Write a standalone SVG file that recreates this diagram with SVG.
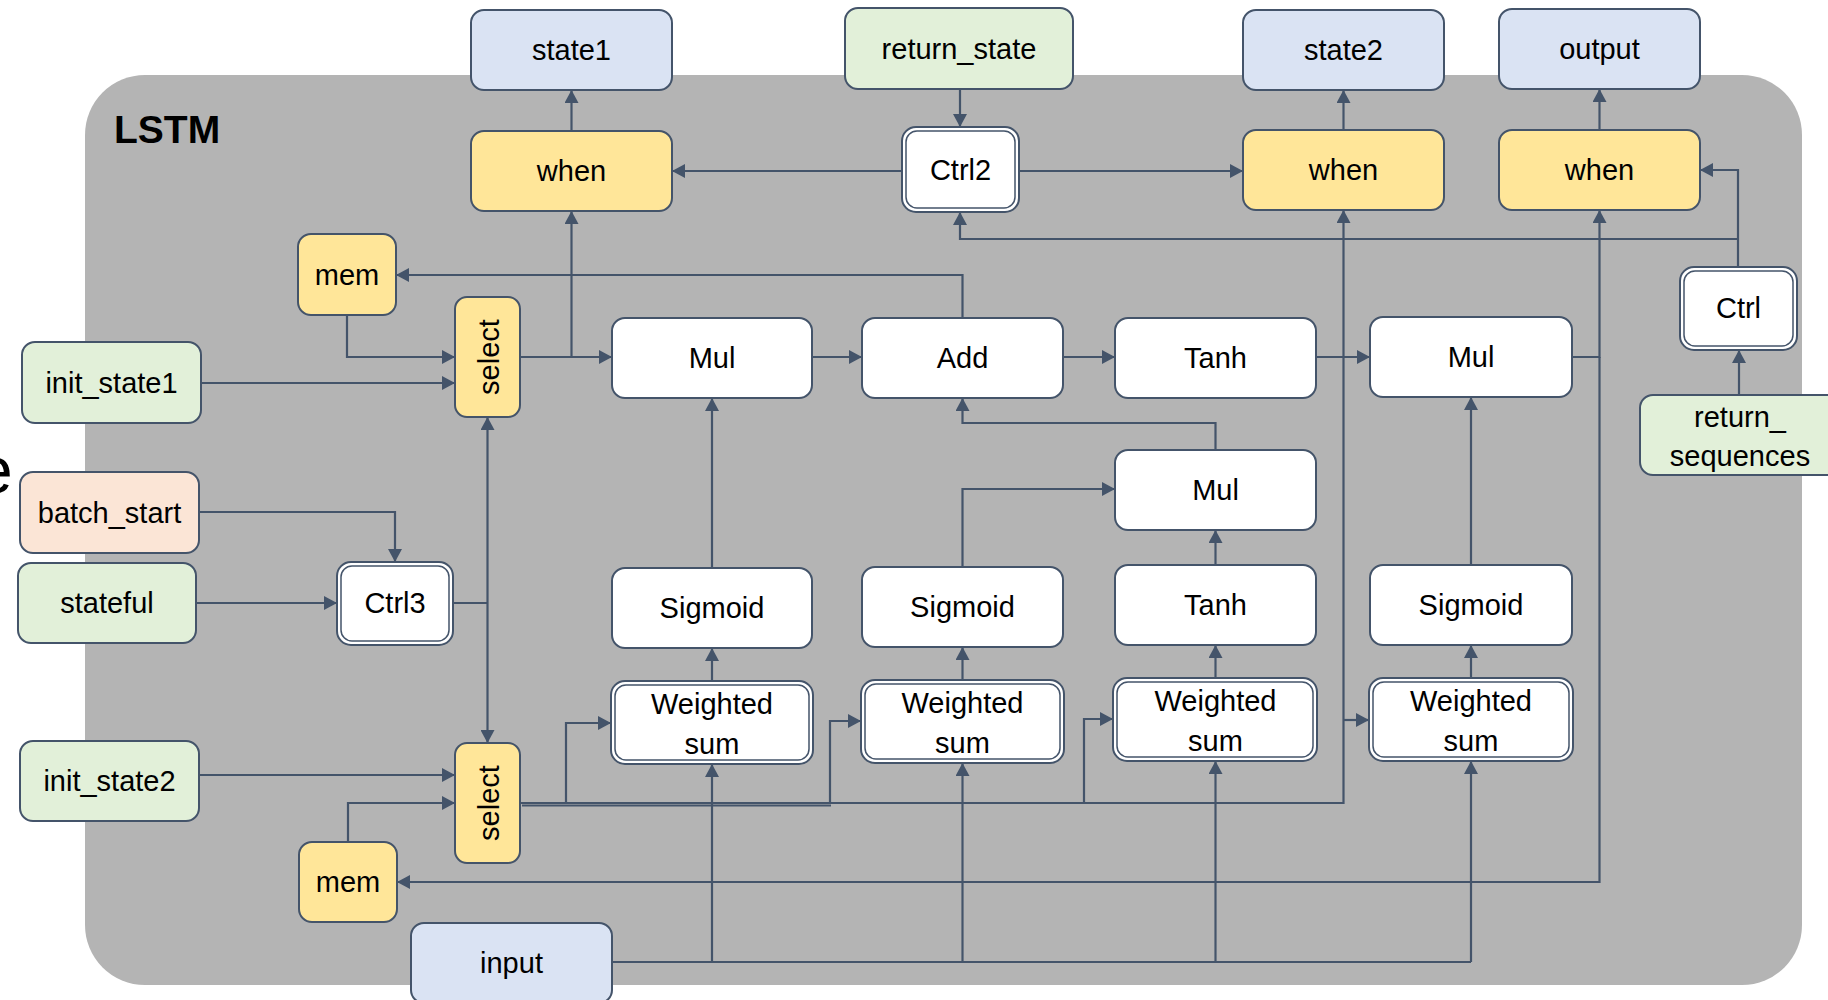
<svg xmlns="http://www.w3.org/2000/svg" width="1828" height="1000" viewBox="0 0 1828 1000">
  <defs>
    <marker id="arr" viewBox="0 0 10 10" refX="10" refY="5" markerWidth="13" markerHeight="14" markerUnits="userSpaceOnUse" orient="auto" preserveAspectRatio="none">
      <path d="M0,0 L10,5 L0,10 z" fill="#44546A"/>
    </marker>
    <style>
      .bg { fill: #B4B4B4; }
      .box { stroke: #44546A; stroke-width: 2; }
      .blue { fill: #DAE3F3; }
      .green { fill: #E2F0D9; }
      .yellow { fill: #FFE699; }
      .peach { fill: #FBE5D6; }
      .white { fill: #FFFFFF; }
      .inner { fill: none; stroke: #44546A; stroke-width: 1.5; }
      .lbl { font-family: "Liberation Sans", Arial, sans-serif; font-size: 29px; fill: #000; text-anchor: middle; }
      .title { font-family: "Liberation Sans", Arial, sans-serif; font-size: 39px; font-weight: bold; fill: #000; }
      .edge { fill: none; stroke: #44546A; stroke-width: 2.2; }
      .arrow { marker-end: url(#arr); }
    </style>
  </defs>

  <!-- stray glyph at the left border -->
  <text x="-24" y="493" font-family="Liberation Sans, Arial, sans-serif" font-size="66" fill="#000">e</text>

  <!-- LSTM container -->
  <g id="lstm">
    <rect class="bg" x="85" y="75" width="1717" height="910" rx="60"/>
    <text class="title" x="114" y="143">LSTM</text>
  </g>

  <!-- connectors -->
  <g id="connectors">
    <path class="edge arrow" d="M571.5,131 V90"/>
    <path class="edge arrow" d="M960,89 V127"/>
    <path class="edge arrow" d="M902,171 H672"/>
    <path class="edge arrow" d="M1019,171 H1243"/>
    <path class="edge arrow" d="M1343.5,130 V90"/>
    <path class="edge arrow" d="M1599.5,130 V89"/>
    <path class="edge arrow" d="M1738,267 V170 H1700"/>
    <path class="edge arrow" d="M1738,239 H960 V212"/>
    <path class="edge arrow" d="M1739,395 V350"/>

    <path class="edge arrow" d="M520,357 H612"/>
    <path class="edge arrow" d="M571.5,357 V211"/>
    <path class="edge arrow" d="M962.5,318 V275 H396"/>
    <path class="edge arrow" d="M347,315 V357 H455"/>
    <path class="edge arrow" d="M201,383 H455"/>
    <path class="edge arrow" d="M812,357 H862"/>
    <path class="edge arrow" d="M1063,357 H1115"/>
    <path class="edge arrow" d="M1316,357 H1370"/>
    <path class="edge arrow" d="M1572,357 H1599.5 V210"/>
    <path class="edge arrow" d="M1599.5,357 V882 H397"/>

    <path class="edge arrow" d="M1215.5,450 V423 H962.5 V398"/>
    <path class="edge arrow" d="M712,568 V398"/>
    <path class="edge arrow" d="M962.5,567 V489 H1115"/>
    <path class="edge arrow" d="M1215.5,565 V530"/>
    <path class="edge arrow" d="M1471,565 V397"/>

    <path class="edge arrow" d="M712,681 V648"/>
    <path class="edge arrow" d="M962.5,680 V647"/>
    <path class="edge arrow" d="M1215.5,678 V645"/>
    <path class="edge arrow" d="M1471,678 V645"/>

    <path class="edge" d="M612,962 H1471"/>
    <path class="edge arrow" d="M712,962 V764"/>
    <path class="edge arrow" d="M962.5,962 V763"/>
    <path class="edge arrow" d="M1215.5,962 V761"/>
    <path class="edge arrow" d="M1471,962 V761"/>

    <path class="edge arrow" d="M199,512 H395 V562"/>
    <path class="edge arrow" d="M196,603 H337"/>
    <path class="edge" d="M453,603 H487.5"/>
    <path class="edge arrow" d="M487.5,603 V417"/>
    <path class="edge arrow" d="M487.5,603 V743"/>

    <path class="edge arrow" d="M199,775 H455"/>
    <path class="edge arrow" d="M348,842 V803 H455"/>

    <path class="edge arrow" d="M520,803 H1343.5 V210"/>
    <path class="edge" d="M522,805.5 H831"/>
    <path class="edge arrow" d="M566,803 V723 H611"/>
    <path class="edge arrow" d="M830,803 V721 H861"/>
    <path class="edge arrow" d="M1084,803 V719 H1113"/>
    <path class="edge arrow" d="M1343.5,720 H1369"/>
  </g>

  <!-- outputs -->
  <g id="state1">
    <rect class="box blue" x="471" y="10" width="201" height="80" rx="13"/>
    <text class="lbl" x="571.5" y="60">state1</text>
  </g>
  <g id="return_state">
    <rect class="box green" x="845" y="8" width="228" height="81" rx="13"/>
    <text class="lbl" x="959" y="59">return_state</text>
  </g>
  <g id="state2">
    <rect class="box blue" x="1243" y="10" width="201" height="80" rx="13"/>
    <text class="lbl" x="1343.5" y="60">state2</text>
  </g>
  <g id="output">
    <rect class="box blue" x="1499" y="9" width="201" height="80" rx="13"/>
    <text class="lbl" x="1599.5" y="59">output</text>
  </g>

  <!-- gates on the outputs -->
  <g id="when1">
    <rect class="box yellow" x="471" y="131" width="201" height="80" rx="13"/>
    <text class="lbl" x="571.5" y="181">when</text>
  </g>
  <g id="ctrl2">
    <rect class="box white" x="902" y="127" width="117" height="85" rx="14"/>
    <rect class="inner" x="906" y="131" width="109" height="77" rx="11"/>
    <text class="lbl" x="960.5" y="180">Ctrl2</text>
  </g>
  <g id="when2">
    <rect class="box yellow" x="1243" y="130" width="201" height="80" rx="13"/>
    <text class="lbl" x="1343.5" y="180">when</text>
  </g>
  <g id="when3">
    <rect class="box yellow" x="1499" y="130" width="201" height="80" rx="13"/>
    <text class="lbl" x="1599.5" y="180">when</text>
  </g>
  <g id="ctrl">
    <rect class="box white" x="1680" y="267" width="117" height="83" rx="14"/>
    <rect class="inner" x="1684" y="271" width="109" height="75" rx="11"/>
    <text class="lbl" x="1738.5" y="318">Ctrl</text>
  </g>
  <g id="return_sequences">
    <rect class="box green" x="1640" y="395" width="200" height="80" rx="13"/>
    <text class="lbl" x="1740" y="427">return_</text>
    <text class="lbl" x="1740" y="466">sequences</text>
  </g>

  <!-- state memories and selectors -->
  <g id="mem1">
    <rect class="box yellow" x="298" y="234" width="98" height="81" rx="13"/>
    <text class="lbl" x="347" y="285">mem</text>
  </g>
  <g id="select1">
    <rect class="box yellow" x="455" y="297" width="65" height="120" rx="12"/>
    <text class="lbl" transform="translate(487.5,357) rotate(-90)" x="0" y="11">select</text>
  </g>
  <g id="init_state1">
    <rect class="box green" x="22" y="342" width="179" height="81" rx="13"/>
    <text class="lbl" x="111.5" y="393">init_state1</text>
  </g>
  <g id="batch_start">
    <rect class="box peach" x="20" y="472" width="179" height="81" rx="13"/>
    <text class="lbl" x="109.5" y="523">batch_start</text>
  </g>
  <g id="stateful">
    <rect class="box green" x="18" y="563" width="178" height="80" rx="13"/>
    <text class="lbl" x="107" y="613">stateful</text>
  </g>
  <g id="ctrl3">
    <rect class="box white" x="337" y="562" width="116" height="83" rx="14"/>
    <rect class="inner" x="341" y="566" width="108" height="75" rx="11"/>
    <text class="lbl" x="395" y="613">Ctrl3</text>
  </g>
  <g id="init_state2">
    <rect class="box green" x="20" y="741" width="179" height="80" rx="13"/>
    <text class="lbl" x="109.5" y="791">init_state2</text>
  </g>
  <g id="select2">
    <rect class="box yellow" x="455" y="743" width="65" height="120" rx="12"/>
    <text class="lbl" transform="translate(487.5,803) rotate(-90)" x="0" y="11">select</text>
  </g>
  <g id="mem2">
    <rect class="box yellow" x="299" y="842" width="98" height="80" rx="13"/>
    <text class="lbl" x="348" y="892">mem</text>
  </g>
  <g id="input">
    <rect class="box blue" x="411" y="923" width="201" height="80" rx="13"/>
    <text class="lbl" x="511.5" y="973">input</text>
  </g>

  <!-- cell arithmetic -->
  <g id="mul1">
    <rect class="box white" x="612" y="318" width="200" height="80" rx="13"/>
    <text class="lbl" x="712" y="368">Mul</text>
  </g>
  <g id="add">
    <rect class="box white" x="862" y="318" width="201" height="80" rx="13"/>
    <text class="lbl" x="962.5" y="368">Add</text>
  </g>
  <g id="tanh1">
    <rect class="box white" x="1115" y="318" width="201" height="80" rx="13"/>
    <text class="lbl" x="1215.5" y="368">Tanh</text>
  </g>
  <g id="mul3">
    <rect class="box white" x="1370" y="317" width="202" height="80" rx="13"/>
    <text class="lbl" x="1471" y="367">Mul</text>
  </g>
  <g id="mul2">
    <rect class="box white" x="1115" y="450" width="201" height="80" rx="13"/>
    <text class="lbl" x="1215.5" y="500">Mul</text>
  </g>

  <!-- gate activations -->
  <g id="sigmoid1">
    <rect class="box white" x="612" y="568" width="200" height="80" rx="13"/>
    <text class="lbl" x="712" y="618">Sigmoid</text>
  </g>
  <g id="sigmoid2">
    <rect class="box white" x="862" y="567" width="201" height="80" rx="13"/>
    <text class="lbl" x="962.5" y="617">Sigmoid</text>
  </g>
  <g id="tanh2">
    <rect class="box white" x="1115" y="565" width="201" height="80" rx="13"/>
    <text class="lbl" x="1215.5" y="615">Tanh</text>
  </g>
  <g id="sigmoid3">
    <rect class="box white" x="1370" y="565" width="202" height="80" rx="13"/>
    <text class="lbl" x="1471" y="615">Sigmoid</text>
  </g>

  <!-- weighted sums -->
  <g id="ws1">
    <rect class="box white" x="611" y="681" width="202" height="83" rx="14"/>
    <rect class="inner" x="615" y="685" width="194" height="75" rx="11"/>
    <text class="lbl" x="712" y="714">Weighted</text>
    <text class="lbl" x="712" y="754">sum</text>
  </g>
  <g id="ws2">
    <rect class="box white" x="861" y="680" width="203" height="83" rx="14"/>
    <rect class="inner" x="865" y="684" width="195" height="75" rx="11"/>
    <text class="lbl" x="962.5" y="713">Weighted</text>
    <text class="lbl" x="962.5" y="753">sum</text>
  </g>
  <g id="ws3">
    <rect class="box white" x="1113" y="678" width="204" height="83" rx="14"/>
    <rect class="inner" x="1117" y="682" width="196" height="75" rx="11"/>
    <text class="lbl" x="1215.5" y="711">Weighted</text>
    <text class="lbl" x="1215.5" y="751">sum</text>
  </g>
  <g id="ws4">
    <rect class="box white" x="1369" y="678" width="204" height="83" rx="14"/>
    <rect class="inner" x="1373" y="682" width="196" height="75" rx="11"/>
    <text class="lbl" x="1471" y="711">Weighted</text>
    <text class="lbl" x="1471" y="751">sum</text>
  </g>
</svg>
